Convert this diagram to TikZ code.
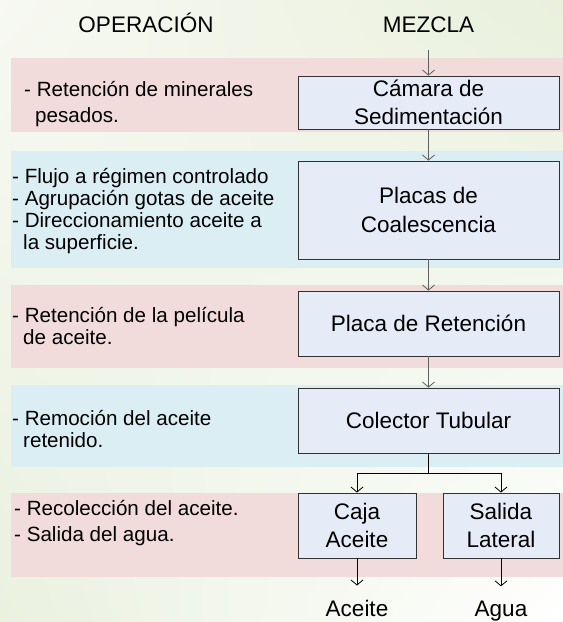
\documentclass[tikz,border=0pt]{standalone}
\usepackage{fontspec}
\setmainfont{Liberation Sans}
\usetikzlibrary{arrows.meta,shadings}

\definecolor{rosa}{RGB}{242,220,219}
\definecolor{celeste}{RGB}{219,238,244}
\definecolor{cajafondo}{RGB}{230,236,247}
\definecolor{borde}{RGB}{50,50,50}
\definecolor{gris}{RGB}{95,95,95}
\definecolor{verdeA}{RGB}{247,249,242}
\definecolor{verdeB}{RGB}{233,240,220}
\definecolor{verdeC}{RGB}{234,241,223}

\begin{document}
\begin{tikzpicture}[x=1pt,y=-1pt,
  bloque/.style={draw=borde,line width=0.9pt,fill=cajafondo,inner sep=0pt,
    align=center,font=\fontsize{22.5}{28.5}\selectfont},
  nota/.style={anchor=west,inner sep=0pt,align=left,
    font=\fontsize{20.6}{22}\selectfont},
  notaancha/.style={nota,font=\fontsize{20.6}{26}\selectfont},
  titulo/.style={anchor=base,inner sep=0pt,font=\fontsize{22.5}{27}\selectfont},
  flecha/.style={-{Straight Barb[length=5pt,width=12pt]},line width=0.8pt,draw=gris},
  flechan/.style={flecha,draw=black}]

%fondo
\shade[upper left=verdeA,upper right=verdeB,lower left=verdeC,lower right=white]
  (0,0) rectangle (563,622);

%franjas
\fill[rosa] (11,58) rectangle (563,132);
\fill[celeste] (11,151) rectangle (563,268);
\fill[rosa] (11,285) rectangle (563,368);
\fill[celeste] (11,385) rectangle (563,467);
\fill[rosa] (11,493) rectangle (563,577);

%titulos
\node[titulo] (operacion) at (146,32) {OPERACIÓN};
\node[titulo] (mezcla) at (428.5,32) {MEZCLA};

%bloques
\node[bloque,minimum width=261,minimum height=53] (camara) at (428.5,102.5) {Cámara de\\Sedimentación};
\node[bloque,minimum width=261,minimum height=98] (placas) at (428.5,210) {Placas de\\Coalescencia};
\node[bloque,minimum width=261,minimum height=65] (placa) at (428.5,323.5) {Placa de Retención};
\node[bloque,minimum width=261,minimum height=65] (colector) at (428.5,420.5) {Colector Tubular};
\node[bloque,minimum width=118,minimum height=65] (caja) at (357,525.5) {Caja\\Aceite};
\node[bloque,minimum width=116,minimum height=65] (salida) at (501,525.5) {Salida\\Lateral};

\node[titulo] (aceite) at (357,616) {Aceite};
\node[titulo] (agua) at (501,616) {Agua};

%operaciones
\node[notaancha] (op1) at (24,104) {- Retención de minerales\\\hspace*{11pt}pesados.};
\node[nota] (op2) at (12,211) {- Flujo a régimen controlado\\- Agrupación gotas de aceite\\- Direccionamiento aceite a\\\hspace*{11pt}la superficie.};
\node[nota] (op3) at (12,326) {- Retención de la película\\\hspace*{11pt}de aceite.};
\node[nota] (op4) at (12,429) {- Remoción del aceite\\\hspace*{11pt}retenido.};
\node[notaancha] (op5) at (14,523) {- Recolección del aceite.\\- Salida del agua.};

%flechas
\coordinate (rama) at (428.5,473);
\draw[flecha,shorten <=18pt] (mezcla) -- (camara);
\draw[flecha] (camara) -- (placas);
\draw[flecha] (placas) -- (placa);
\draw[flecha] (placa) -- (colector);
\draw[line width=0.8pt] (colector) -- (rama);
\draw[flechan] (rama) -| (caja);
\draw[flechan] (rama) -| (salida);
\draw[flechan,shorten >=14pt] (caja) -- (aceite);
\draw[flechan,shorten >=14pt] (salida) -- (agua);

\end{tikzpicture}
\end{document}
